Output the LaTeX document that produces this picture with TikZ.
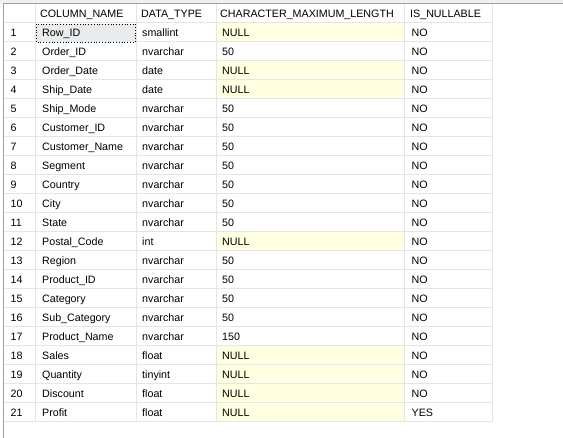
\documentclass[tikz,border=0pt]{standalone}
\usepackage{fontspec}
\setmainfont{Liberation Sans}
\definecolor{gridgray}{RGB}{229,229,229}
\definecolor{framegray}{RGB}{160,160,160}
\definecolor{topgray}{RGB}{240,240,240}
\definecolor{nullyellow}{RGB}{255,255,225}
\definecolor{selgray}{RGB}{232,236,239}

\begin{document}
\begin{tikzpicture}[x=1pt,y=-1pt,
    cell/.style={anchor=base west, inner sep=0pt, font=\fontsize{10.7}{12}\selectfont},
    gridline/.style={draw=gridgray, line width=1pt}]
    \useasboundingbox (0,0) rectangle (563,438);
    \fill[topgray] (0,0) rectangle (563,4);
    % header row
    \node[cell] (hname) at (40,17.5) {COLUMN\_NAME};
    \node[cell] (htype) at (141,17.5) {DATA\_TYPE};
    \node[cell] (hlen) at (220,17.5) {CHARACTER\_MAXIMUM\_LENGTH};
    \node[cell] (hnull) at (410,17.5) {IS\_NULLABLE};
    % selected cell
    \fill[selgray] (36,24) rectangle (135.5,42);
    % result rows
    \foreach \n/\cname/\ctype/\clen/\cnull/\cfill in {
        1/Row\_ID/smallint/NULL/NO/nullyellow,
        2/Order\_ID/nvarchar/50/NO/white,
        3/Order\_Date/date/NULL/NO/nullyellow,
        4/Ship\_Date/date/NULL/NO/nullyellow,
        5/Ship\_Mode/nvarchar/50/NO/white,
        6/Customer\_ID/nvarchar/50/NO/white,
        7/Customer\_Name/nvarchar/50/NO/white,
        8/Segment/nvarchar/50/NO/white,
        9/Country/nvarchar/50/NO/white,
        10/City/nvarchar/50/NO/white,
        11/State/nvarchar/50/NO/white,
        12/Postal\_Code/int/NULL/NO/nullyellow,
        13/Region/nvarchar/50/NO/white,
        14/Product\_ID/nvarchar/50/NO/white,
        15/Category/nvarchar/50/NO/white,
        16/Sub\_Category/nvarchar/50/NO/white,
        17/Product\_Name/nvarchar/150/NO/white,
        18/Sales/float/NULL/NO/nullyellow,
        19/Quantity/tinyint/NULL/NO/nullyellow,
        20/Discount/float/NULL/NO/nullyellow,
        21/Profit/float/NULL/YES/nullyellow}
    {
        \fill[\cfill] (216,{4+19*\n}) rectangle (404,{23+19*\n});
        \node[cell] (num\n) at (10.5,{18+19*\n}) {\n};
        \node[cell] (name\n) at (42,{18+19*\n}) {\cname};
        \node[cell] (type\n) at (142,{18+19*\n}) {\ctype};
        \node[cell] (len\n) at (222,{18+19*\n}) {\clen};
        \node[cell] (null\n) at (411.5,{18+19*\n}) {\cnull};
    }
    % grid
    \foreach \k in {0,...,21}
        \draw[gridline] (3,{23+19*\k}) -- (492,{23+19*\k});
    \foreach \x in {35,136,216,404,492}
        \draw[gridline] (\x,4) -- (\x,422);
    \draw[dotted, line width=0.8pt] (36,24) rectangle (135.5,42);
    \draw[framegray, line width=1pt] (3,438) -- (3,4) -- (563,4);
\end{tikzpicture}
\end{document}
